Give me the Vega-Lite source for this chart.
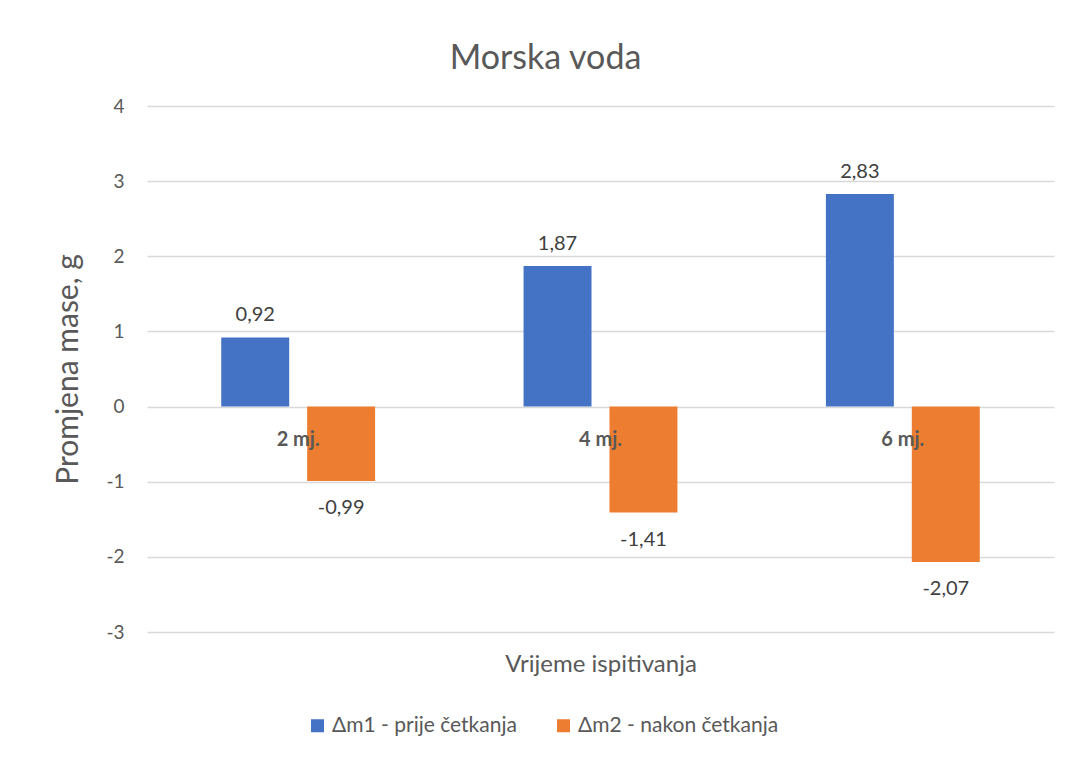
{
  "$schema": "https://vega.github.io/schema/vega-lite/v6.json",
  "autosize": {"type": "none"},
  "width": 907,
  "height": 526,
  "padding": {"left": 147, "top": 106, "right": 15, "bottom": 125},
  "background": "white",
  "config": {
    "font": "Lato",
    "view": {"stroke": null},
    "locale": {"number": {"decimal": ",", "thousands": ".", "grouping": [3], "currency": ["", " €"], "minus": "-"}}
  },
  "title": {
    "text": "Morska voda",
    "fontSize": 34,
    "font": "Lato",
    "fontWeight": "normal",
    "color": "#595959",
    "anchor": "middle",
    "frame": "group",
    "dx": -55,
    "offset": 21
  },
  "data": {
    "values": [
      {"period": "2 mj.", "series": "Δm1 - prije četkanja", "value": 0.92},
      {"period": "2 mj.", "series": "Δm2 - nakon četkanja", "value": -0.99},
      {"period": "4 mj.", "series": "Δm1 - prije četkanja", "value": 1.87},
      {"period": "4 mj.", "series": "Δm2 - nakon četkanja", "value": -1.41},
      {"period": "6 mj.", "series": "Δm1 - prije četkanja", "value": 2.83},
      {"period": "6 mj.", "series": "Δm2 - nakon četkanja", "value": -2.07}
    ]
  },
  "encoding": {
    "x": {
      "field": "period",
      "type": "nominal",
      "sort": null,
      "scale": {"paddingInner": 0.491, "paddingOuter": 0.2455},
      "axis": {
        "title": "Vrijeme ispitivanja",
        "titleFontSize": 24,
        "titleFontWeight": "normal",
        "titleColor": "#595959",
        "titlePadding": 203,
        "offset": -225,
        "zindex": 2,
        "domain": false,
        "ticks": false,
        "labelAngle": 0,
        "labelFontSize": 20,
        "labelFontWeight": "bold",
        "labelColor": "#595959",
        "labelPadding": 22
      }
    },
    "xOffset": {
      "field": "series",
      "type": "nominal",
      "sort": null,
      "scale": {"paddingInner": 0.209, "paddingOuter": 0}
    },
    "y": {
      "field": "value",
      "type": "quantitative",
      "scale": {"domain": [-3, 4], "nice": false, "zero": false},
      "axis": {
        "title": "Promjena mase, g",
        "titleFontSize": 30,
        "titleFontWeight": "normal",
        "titleColor": "#595959",
        "titlePadding": 22,
        "values": [-3, -2, -1, 0, 1, 2, 3, 4],
        "format": "d",
        "domain": false,
        "ticks": false,
        "labelFontSize": 19,
        "labelColor": "#595959",
        "labelPadding": 23,
        "gridColor": "#d9d9d9",
        "gridWidth": 1.3
      }
    }
  },
  "layer": [
    {
      "mark": {"type": "bar"},
      "encoding": {
        "color": {
          "field": "series",
          "type": "nominal",
          "sort": null,
          "scale": {"range": ["#4472C4", "#ED7D31"]},
          "legend": {
            "title": null,
            "orient": "none",
            "legendX": 160,
            "legendY": 609,
            "direction": "horizontal",
            "symbolType": "square",
            "symbolSize": 169,
            "symbolStrokeWidth": 0,
            "labelFontSize": 21,
            "labelColor": "#595959",
            "labelOffset": 4,
            "columnPadding": 36,
            "labelLimit": 400
          }
        }
      }
    },
    {
      "transform": [{"filter": "datum.value >= 0"}],
      "mark": {"type": "text", "baseline": "bottom", "dy": -12, "fontSize": 20, "color": "#404040"},
      "encoding": {"text": {"field": "value", "type": "quantitative", "format": ".2f"}}
    },
    {
      "transform": [{"filter": "datum.value < 0"}],
      "mark": {"type": "text", "baseline": "top", "dy": 17, "fontSize": 20, "color": "#404040"},
      "encoding": {"text": {"field": "value", "type": "quantitative", "format": ".2f"}}
    }
  ]
}
